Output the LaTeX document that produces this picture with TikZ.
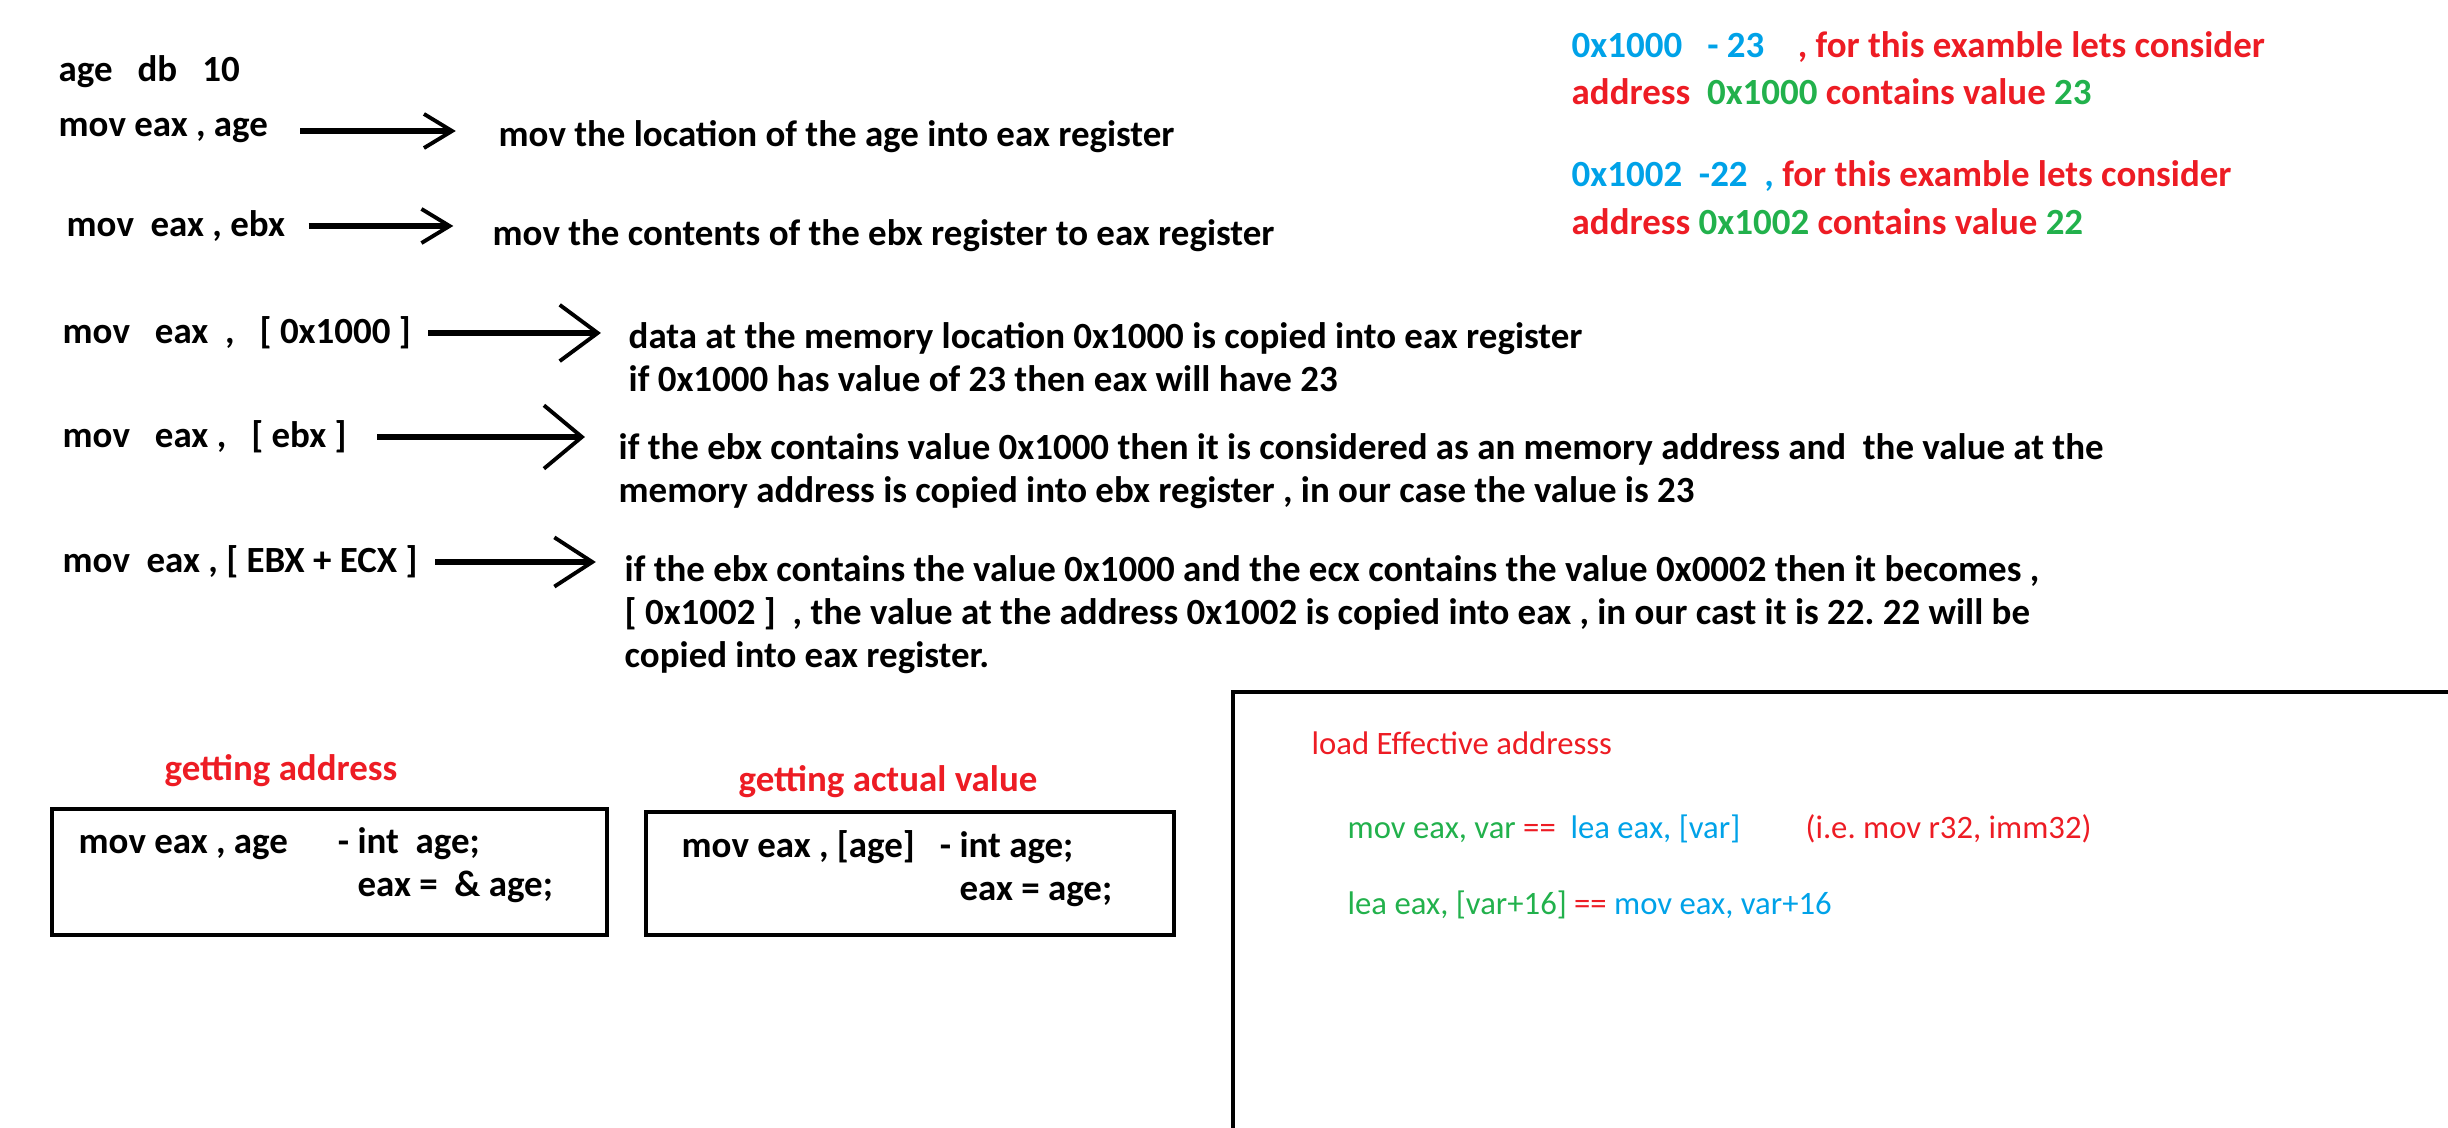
\documentclass[tikz,border=0pt]{standalone}
\usepackage{fontspec}
\setmainfont{Carlito}
\usetikzlibrary{arrows.meta}
\definecolor{pred}{RGB}{237,28,36}
\definecolor{pblue}{RGB}{0,162,232}
\definecolor{pgreen}{RGB}{34,177,76}
\frenchspacing

\begin{document}
\begin{tikzpicture}[x=0.01cm, y=-0.01cm,
    txt/.style={anchor=west, inner sep=0pt, align=left, font=\fontsize{10.5}{12.2}\selectfont\bfseries},
    lea/.style={anchor=west, inner sep=0pt, font=\fontsize{9.3}{11}\selectfont},
    arr/.style={line width=1.5pt, -{Straight Barb[length=8pt, width=9.7pt, line width=1.1pt]}},
    bigarr/.style={line width=1.5pt, -{Straight Barb[length=10.8pt, width=#1, line width=1.1pt]}},
    box/.style={draw, line width=1.3pt, inner sep=0pt}]
    \useasboundingbox (0,0) rectangle (2448,1128);

    % instructions
    \node[txt] (c0) at (58,72) {age\ \ \ db\ \ \ 10};
    \node[txt] (c1) at (58,131) {mov eax , age};
    \node[txt] (c2) at (66,226) {mov\ \ eax , ebx};
    \node[txt] (c3) at (62,333) {mov\ \ \ eax\ \ ,\ \ \ [ 0x1000 ]};
    \node[txt] (c4) at (62,437) {mov\ \ \ eax ,\ \ \ [ ebx ]};
    \node[txt] (c5) at (62,562) {mov\ \ eax , [ EBX + ECX ]};

    % what they do
    \node[txt] (d1) at (498,137) {mov the location of the age into eax register};
    \node[txt] (d2) at (492,236) {mov the contents of the ebx register to eax register};
    \node[txt] (d3) at (628,357) {data at the memory location 0x1000 is copied into eax register\\
        if 0x1000 has value of 23 then eax will have 23};
    \node[txt] (d4) at (618,471) {if the ebx contains value 0x1000 then it is considered as an memory address and\ \ the value at the\\
        memory address is copied into ebx register , in our case the value is 23};
    \node[txt] (d5) at (624,615) {if the ebx contains the value 0x1000 and the ecx contains the value 0x0002 then it becomes ,\\
        {[} 0x1002 ]\ \ , the value at the address 0x1002 is copied into eax , in our cast it is 22. 22 will be\\
        copied into eax register.};

    \draw[arr, shorten <=9pt, shorten >=12pt] (c1.east) -- (c1.east -| d1.west);
    \draw[arr, shorten <=6.5pt, shorten >=11pt] (c2.east) -- (c2.east -| d2.west);
    \draw[bigarr=16pt, shorten <=4.8pt, shorten >=7.7pt] (c3.east) -- (c3.east -| d3.west);
    \draw[bigarr=18pt, shorten <=8.5pt, shorten >=9.4pt] (c4.east) -- (c4.east -| d4.west);
    \draw[bigarr=14pt, shorten <=4.8pt, shorten >=8pt] (c5.east) -- (c5.east -| d5.west);

    % memory example
    \node[txt] (m1) at (1571,47) {\color{pblue}0x1000\ \ \ - 23\ \ \ \ \color{pred}, for this examble lets consider};
    \node[txt] (m2) at (1571,92) {\color{pred}address\ \ \color{pgreen}0x1000 \color{pred}contains value \color{pgreen}23};
    \node[txt] (m3) at (1571,176) {\color{pblue}0x1002\ \ -22\ \ , \color{pred}for this examble lets consider};
    \node[txt] (m4) at (1571,222) {\color{pred}address \color{pgreen}0x1002 \color{pred}contains value \color{pgreen}22};

    % address vs value
    \node[txt, anchor=center, text=pred] (g1) at (281,771) {getting address};
    \node[box, minimum width=5.55cm, minimum height=1.26cm] (b1) at (329.5,872) {};
    \node[txt] (t1) at (78,866) {\begin{tabular}{@{}l@{}l@{}}
        mov eax , age\ \ \ \ \ \ -\ \ & int\ \ age;\\
        & eax =\ \ \& age;\end{tabular}};

    \node[txt, anchor=center, text=pred] (g2) at (888,782) {getting actual value};
    \node[box, minimum width=5.28cm, minimum height=1.23cm] (b2) at (910,873.5) {};
    \node[txt] (t2) at (681,870) {\begin{tabular}{@{}l@{}l@{}}
        mov eax , [age]\ \ \ -\ \ & int age;\\
        & eax = age;\end{tabular}};

    % lea panel
    \draw[line width=1.3pt] (2448,692) -- (1233,692) -- (1233,1128);
    \node[lea, text=pred] (l0) at (1311,743) {load Effective addresss};
    \node[lea] (l1) at (1347,829) {\color{pgreen}mov eax, var \color{pred}==\ \ \color{pblue}lea eax, [var]\hspace{2em}\color{pred}(i.e. mov r32, imm32)};
    \node[lea] (l2) at (1347,905) {\color{pgreen}lea eax, [var+16] \color{pred}== \color{pblue}mov eax, var+16};
\end{tikzpicture}
\end{document}
